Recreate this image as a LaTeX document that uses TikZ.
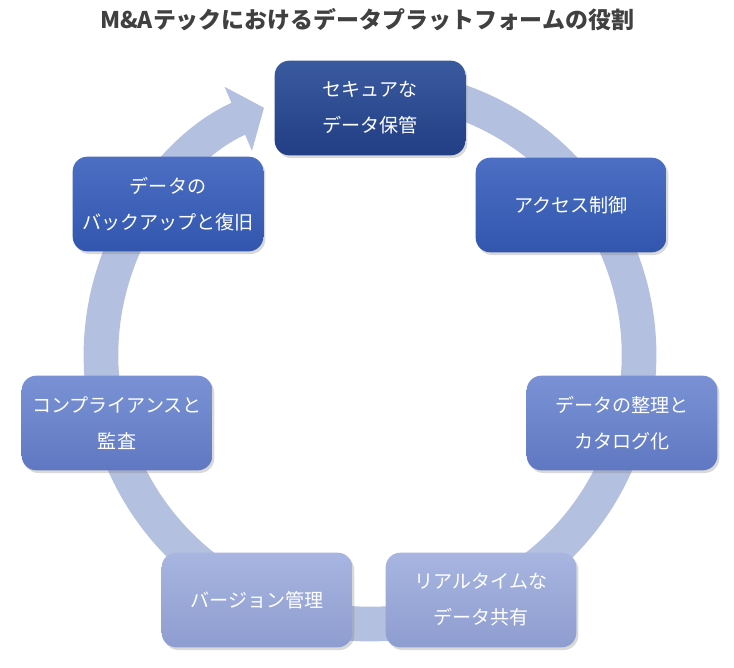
\documentclass[tikz,border=0pt]{standalone}
\usepackage{fontspec}
\setmainfont{Noto Sans CJK JP}
\newfontfamily\jpfont{Noto Sans CJK JP}
\usepackage{tikz}
\usetikzlibrary{arrows.meta,shadows}
\definecolor{ringcol}{RGB}{180,192,224}
\definecolor{titlecol}{RGB}{64,64,64}
\definecolor{darktop}{RGB}{58,90,160}
\definecolor{darkbot}{RGB}{34,62,132}
\definecolor{midtop}{RGB}{76,111,196}
\definecolor{midbot}{RGB}{50,86,174}
\definecolor{lighttop}{RGB}{122,146,212}
\definecolor{lightbot}{RGB}{96,120,194}
\definecolor{paletop}{RGB}{168,181,225}
\definecolor{palebot}{RGB}{142,157,208}
\tikzstyle{box}=[shape=rectangle,rounded corners=11pt,minimum width=143pt,minimum height=71pt,
    align=center,text=white,font={\jpfont\fontsize{14.3}{27}\selectfont},
    drop shadow={opacity=0.3,shadow xshift=1.5pt,shadow yshift=-2pt}]
\tikzstyle{dark}=[box,top color=darktop,bottom color=darkbot]
\tikzstyle{mid}=[box,top color=midtop,bottom color=midbot]
\tikzstyle{light}=[box,top color=lighttop,bottom color=lightbot]
\tikzstyle{pale}=[box,top color=paletop,bottom color=palebot]
\tikzstyle{ring}=[draw=ringcol,line width=26pt,-{Triangle[length=21pt,width=51pt,color=ringcol]}]
\tikzstyle{title}=[text=titlecol,font={\jpfont\bfseries\fontsize{17.2}{20}\selectfont}]

\begin{document}
\begin{tikzpicture}[x=0.75pt,y=-0.75pt]
        \useasboundingbox (0,0) rectangle (734,667);
        \node[title] (ttl) at (367,20) {M\&Aテックにおけるデータプラットフォームの役割};
        % big circular arrow behind the boxes
        \draw[ring,shift={(370,355)}] (-75:269) arc[start angle=-75,end angle=246.8,radius=269];
        \node[dark] (store) at (370,108) {セキュアな\\データ保管};
        \node[mid] (access) at (571,205) {アクセス制御};
        \node[light] (catalog) at (622,423) {データの整理と\\カタログ化};
        \node[pale] (share) at (481,600) {リアルタイムな\\データ共有};
        \node[pale] (version) at (257,600) {バージョン管理};
        \node[light] (audit) at (117,423) {コンプライアンスと\\監査};
        \node[mid] (backup) at (168,204) {データの\\バックアップと復旧};
    \end{tikzpicture}
\end{document}
